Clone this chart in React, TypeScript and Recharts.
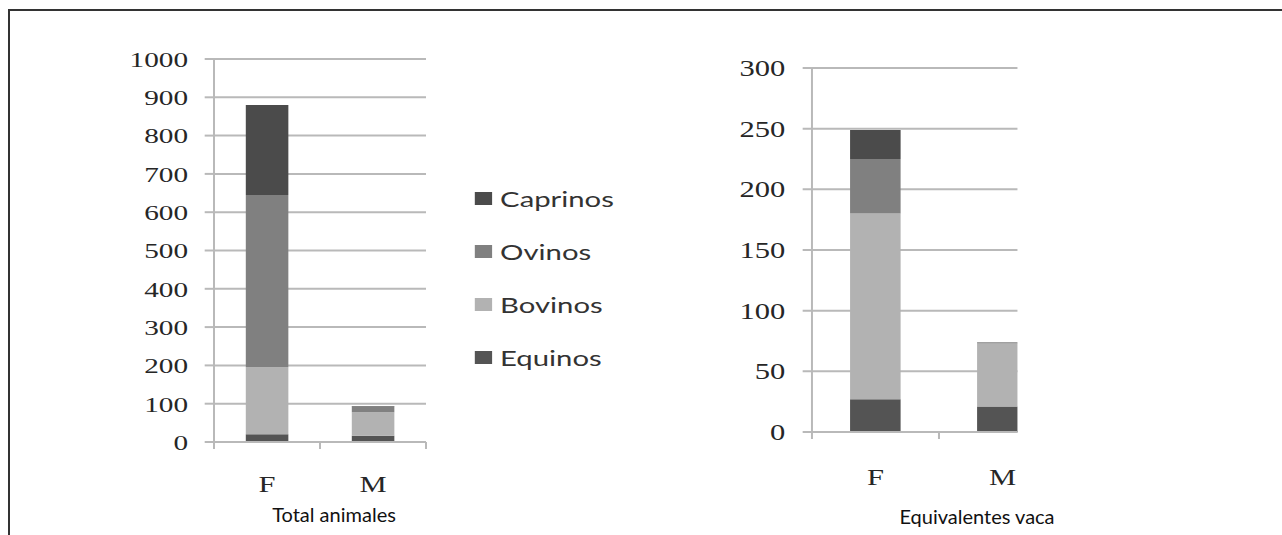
import { BarChart, Bar, XAxis, YAxis, CartesianGrid } from 'recharts'

// values
const categories = ['F', 'M']
const seriesNames = ['Equinos', 'Bovinos', 'Ovinos', 'Caprinos']

const totalEquinos = [20, 16]
const totalBovinos = [175, 62]
const totalOvinos = [450, 15]
const totalCaprinos = [235, 1]

const vacaEquinos = [27, 21]
const vacaBovinos = [153, 52]
const vacaOvinos = [45, 1]
const vacaCaprinos = [24, 0]

const totalTicks = [0, 100, 200, 300, 400, 500, 600, 700, 800, 900, 1000]
const vacaTicks = [0, 50, 100, 150, 200, 250, 300]

const COLORS: Record<string, string> = {
  Equinos: '#545454',
  Bovinos: '#b2b2b2',
  Ovinos: '#808080',
  Caprinos: '#4b4b4b',
}

const GRID = '#b9b9b9'
const TEXT = '#262626'
const SERIF = '"Liberation Serif", "Times New Roman", serif'
// the source picture is stretched sideways
const SX = 1.33

const buildRows = (eq: number[], bo: number[], ov: number[], ca: number[]) =>
  categories.map((name, i) => ({ name, Equinos: eq[i], Bovinos: bo[i], Ovinos: ov[i], Caprinos: ca[i] }))

const totalRows = buildRows(totalEquinos, totalBovinos, totalOvinos, totalCaprinos)
const vacaRows = buildRows(vacaEquinos, vacaBovinos, vacaOvinos, vacaCaprinos)

const makeCatTick = (bw: number, offset: number, fs: number) => (props: any) => {
  const { x, y, payload } = props
  return (
    <g>
      <line x1={x - bw / 2} x2={x - bw / 2} y1={y} y2={y + 7} stroke={GRID} strokeWidth={1.5} />
      <line x1={x + bw / 2} x2={x + bw / 2} y1={y} y2={y + 7} stroke={GRID} strokeWidth={1.5} />
      <text x={x} y={y + offset} textAnchor="middle" fontSize={fs} fontFamily={SERIF} fill={TEXT}>
        {payload.value}
      </text>
    </g>
  )
}

function StackChart(p: {
  rows: any[]
  ticks: number[]
  width: number
  top: number
  bottom: number
  right: number
  yAxisWidth: number
  tickMargin: number
  fontSize: number
  labelOffset: number
}) {
  const plotW = p.width - p.yAxisWidth - p.right
  const bw = plotW / categories.length
  return (
    <BarChart
      width={p.width}
      height={535}
      data={p.rows}
      margin={{ top: p.top, right: p.right, bottom: p.bottom - 40, left: 0 }}
      barCategoryGap="30%"
    >
      <CartesianGrid vertical={false} stroke={GRID} strokeWidth={2} />
      <XAxis
        dataKey="name"
        height={40}
        interval={0}
        axisLine={{ stroke: GRID, strokeWidth: 2 }}
        tickLine={false}
        tickSize={0}
        tickMargin={0}
        tick={makeCatTick(bw, p.labelOffset, 23)}
      />
      <YAxis
        width={p.yAxisWidth}
        domain={[0, p.ticks[p.ticks.length - 1]]}
        ticks={p.ticks}
        interval={0}
        axisLine={{ stroke: GRID, strokeWidth: 1.5 }}
        tickLine={{ stroke: GRID, strokeWidth: 2 }}
        tickSize={7}
        tickMargin={p.tickMargin}
        tick={{ fontSize: p.fontSize, fontFamily: SERIF, fill: TEXT }}
      />
      {seriesNames.map((s) => (
        <Bar key={s} dataKey={s} stackId="a" fill={COLORS[s]} isAnimationActive={false} />
      ))}
    </BarChart>
  )
}

export default function App() {
  const legendItems = [...seriesNames].reverse()
  return (
    <div style={{ position: 'absolute', left: 0, top: 0, width: 1282, height: 535, background: '#fff', overflow: 'hidden' }}>
      <div
        style={{
          position: 'absolute',
          left: 8,
          top: 9,
          width: 1274,
          height: 526,
          borderTop: '2px solid #333',
          borderLeft: '2px solid #333',
          boxSizing: 'border-box',
        }}
      />
      <div style={{ position: 'absolute', left: 0, top: 0, width: 1282 / SX, height: 535, transform: `scaleX(${SX})`, transformOrigin: '0 0' }}>
        <div style={{ position: 'absolute', left: 0, top: 0 }}>
          <StackChart
            rows={totalRows}
            ticks={totalTicks}
            width={330}
            top={59}
            bottom={93}
            right={9.7}
            yAxisWidth={160.9}
            tickMargin={12.5}
            fontSize={22}
            labelOffset={50}
          />
        </div>

        {legendItems.map((s, i) => (
          <div key={s} style={{ position: 'absolute', left: 357, top: 198 + i * 53 - 15, height: 30, display: 'flex', alignItems: 'center' }}>
            <div style={{ width: 13, height: 13, background: COLORS[s] }} />
            <span style={{ marginLeft: 6, fontFamily: 'Lato, sans-serif', fontSize: 22, color: '#333' }}>{s}</span>
          </div>
        ))}

        <div style={{ position: 'absolute', left: 450, top: 0, width: 314.7, height: 535, overflow: 'hidden' }}>
          <StackChart
            rows={vacaRows}
            ticks={vacaTicks}
            width={351.5}
            top={68}
            bottom={103}
            right={0}
            yAxisWidth={160.5}
            tickMargin={13}
            fontSize={23}
            labelOffset={53}
          />
        </div>
      </div>

      <div style={{ position: 'absolute', left: 334, top: 524, transform: 'translate(-50%, -100%)', fontFamily: '"Liberation Sans Narrow", Lato, sans-serif', fontSize: 20, lineHeight: '20px', color: '#111', whiteSpace: 'nowrap' }}>
        Total animales
      </div>
      <div style={{ position: 'absolute', left: 977, top: 526, transform: 'translate(-50%, -100%)', fontFamily: '"Liberation Sans Narrow", Lato, sans-serif', fontSize: 20, lineHeight: '20px', color: '#111', whiteSpace: 'nowrap' }}>
        Equivalentes vaca
      </div>
    </div>
  )
}
